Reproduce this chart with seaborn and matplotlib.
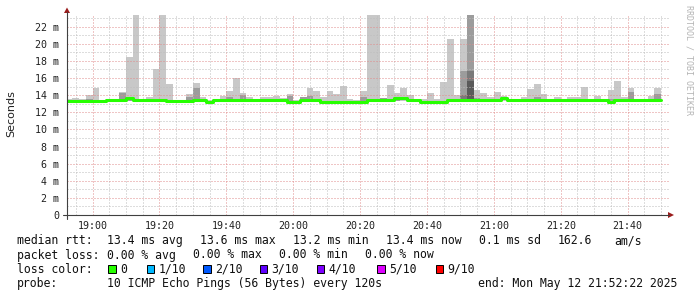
import numpy as np
import matplotlib
matplotlib.use("Agg")
import matplotlib.pyplot as plt
import seaborn as sns
from matplotlib.lines import Line2D
from matplotlib.patches import Polygon, Rectangle
from matplotlib.ticker import FixedLocator, MultipleLocator

nan = np.nan

# ---------------- data ----------------
# time axis in minutes relative to 19:00
view_start = -7.633      # 18:52:22
view_end = 172.367       # 21:52:22
first_step = -8          # first 2-minute step starts 18:52
step_len = 2
x_tick_pos = [0, 20, 40, 60, 80, 100, 120, 140, 160]
x_tick_labels = ["19:00", "19:20", "19:40", "20:00", "20:20",
                 "20:40", "21:00", "21:20", "21:40"]
y_tick_pos = [0, 2, 4, 6, 8, 10, 12, 14, 16, 18, 20, 22]
y_tick_labels = ["0", "2 m", "4 m", "6 m", "8 m", "10 m", "12 m",
                 "14 m", "16 m", "18 m", "20 m", "22 m"]

# slowest ping of each step (ms)
ping_max = [13.55, 13.72, 13.50, 14.00, 14.87, 13.45, 13.50, 13.60, 14.37, 18.45,
            23.50, 13.50, 13.75, 17.05, 23.50, 15.30, 13.45, 13.45, 14.17, 15.45,
            13.75, 13.45, 13.60, 13.87, 14.45, 16.00, 14.20, 13.75, 13.60, 13.75,
            13.80, 13.87, 13.65, 14.17, 13.40, 13.80, 14.83, 14.48, 13.75, 14.48,
            14.17, 15.06, 13.50, 13.45, 14.48, 23.50, 23.50, 13.65, 15.20, 14.20,
            14.83, 14.00, 13.60, 13.60, 14.20, 13.60, 15.57, 20.60, 14.00, 20.60,
            23.50, 14.60, 14.20, 13.75, 14.37, 13.87, 13.45, 13.45, 13.75, 14.75,
            15.30, 14.17, 13.50, 13.75, 13.60, 13.75, 13.75, 14.95, 13.45, 13.87,
            13.45, 14.60, 15.60, 13.75, 14.83, 13.45, 13.50, 13.87, 14.83]

# median rtt of each step (ms)
median_rtt = [13.30, 13.30, 13.30, 13.30, 13.30, 13.30, 13.45, 13.45, 13.45, 13.70,
              13.45, 13.45, 13.45, 13.45, 13.45, 13.30, 13.30, 13.30, 13.30, 13.45,
              13.45, 13.20, 13.45, 13.45, 13.45, 13.45, 13.45, 13.45, 13.45, 13.45,
              13.45, 13.45, 13.45, 13.25, 13.25, 13.45, 13.45, 13.45, 13.25, 13.25,
              13.25, 13.25, 13.25, 13.25, 13.25, 13.45, 13.45, 13.45, 13.45, 13.65,
              13.65, 13.45, 13.45, 13.25, 13.25, 13.25, 13.25, 13.45, 13.45, 13.45,
              13.45, 13.45, 13.45, 13.45, 13.45, 13.65, 13.45, 13.45, 13.45, 13.45,
              13.45, 13.45, 13.45, 13.45, 13.45, 13.45, 13.45, 13.45, 13.45, 13.45,
              13.45, 13.25, 13.45, 13.45, 13.45, 13.45, 13.45, 13.45, 13.45]

# fastest ping of each step (ms)
ping_min = [13.10, 13.10, 13.10, 13.10, 13.10, 13.10, 13.20, 13.20, 13.20, 13.35,
            13.20, 13.20, 13.20, 13.20, 13.20, 13.10, 13.10, 13.10, 13.10, 13.20,
            13.20, 13.00, 13.20, 13.20, 13.20, 13.20, 13.20, 13.20, 13.20, 13.20,
            13.20, 13.20, 13.20, 13.05, 13.05, 13.20, 13.20, 13.20, 13.05, 13.05,
            13.05, 13.05, 13.05, 13.05, 13.05, 13.20, 13.20, 13.20, 13.20, 13.30,
            13.30, 13.20, 13.20, 13.05, 13.05, 13.05, 13.05, 13.20, 13.20, 13.20,
            13.20, 13.20, 13.20, 13.20, 13.20, 13.30, 13.20, 13.20, 13.20, 13.20,
            13.20, 13.20, 13.20, 13.20, 13.20, 13.20, 13.20, 13.20, 13.20, 13.20,
            13.20, 13.05, 13.20, 13.20, 13.20, 13.20, 13.20, 13.20, 13.20]

# denser smoke bands (upper edge, ms)
smoke_mid = [nan, nan, nan, 13.60, nan, nan, nan, nan, 14.30, 13.80,
             nan, nan, nan, nan, nan, nan, nan, nan, 13.75, 14.80,
             nan, nan, nan, nan, 13.80, nan, 14.00, nan, nan, nan,
             nan, nan, nan, 13.90, nan, 13.80, 13.90, nan, nan, nan,
             nan, nan, nan, nan, 13.75, nan, nan, 13.70, nan, 13.80,
             nan, nan, nan, nan, nan, nan, nan, nan, nan, 16.80,
             23.50, 13.70, nan, nan, nan, nan, nan, nan, nan, nan,
             13.80, nan, nan, nan, nan, nan, nan, nan, nan, nan,
             nan, 13.60, nan, nan, 14.37, nan, nan, nan, 14.17]
smoke_dark = [nan] * 59 + [14.00, 16.80] + [nan] * 28
smoke_core = [nan] * 60 + [15.65] + [nan] * 28

# legend texts
stat_row = [(16.7, "median rtt:"), (107.3, "13.4 ms avg"), (200.3, "13.6 ms max"),
            (293.3, "13.2 ms min"), (386.3, "13.4 ms now"), (479.3, "0.1 ms sd"),
            (557.5, "162.6"), (614.0, "am/s")]
loss_row = [(16.7, "packet loss:"), (107.3, "0.00 % avg"), (193.3, "0.00 % max"),
            (279.3, "0.00 % min"), (365.3, "0.00 % now")]
loss_labels = ["0", "1/10", "2/10", "3/10", "4/10", "5/10", "9/10"]
loss_colors = ["#26ff00", "#00b8ff", "#0059ff", "#5e00ff", "#7e00ff", "#dd00ff", "#ff0000"]
loss_box_x = [108.3, 146.7, 203.3, 260.0, 316.7, 377.3, 435.7]
probe_row = [(16.7, "probe:"), (107.3, "10 ICMP Echo Pings (56 Bytes) every 120s"),
             (478.3, "end: Mon May 12 21:52:22 2025")]

# ---------------- drawing ----------------
sns.set_theme(style="white")
plt.rcParams['font.family'] = ['DejaVu Sans Mono', 'DejaVu Sans']

W, H = 697, 297
fig = plt.figure(figsize=(W / 100, H / 100), dpi=100)
fig.patch.set_facecolor("white")
ax = fig.add_axes([67 / W, 1 - 215 / H, (669 - 67) / W, (215 - 15) / H])
ax.set_facecolor("white")

n = len(ping_max)
left_edges = first_step + step_len * np.arange(n)
lo = np.array(ping_min)

def band(top, color, z):
    top = np.array(top, dtype=float)
    ax.bar(left_edges, top - lo, bottom=lo, width=step_len, align="edge",
           color=color, linewidth=0, antialiased=False, zorder=z)

band(ping_max, "#c8c8c8", 1.0)
band(smoke_mid, "#9c9c9c", 1.1)
band(smoke_dark, "#7a7a7a", 1.2)
band(smoke_core, "#5a5a5a", 1.3)

edges = np.append(left_edges, left_edges[-1] + step_len)
med_ext = np.append(median_rtt, median_rtt[-1])
sns.lineplot(x=edges, y=med_ext, drawstyle="steps-post", color="#26ff00",
             linewidth=2.2, ax=ax, zorder=3, sort=False)

ax.set_xlim(view_start, view_end)
ax.set_ylim(0, 23.36)

ax.xaxis.set_major_locator(FixedLocator(x_tick_pos))
ax.set_xticklabels(x_tick_labels)
ax.xaxis.set_minor_locator(MultipleLocator(5))
ax.yaxis.set_major_locator(FixedLocator(y_tick_pos))
ax.set_yticklabels(y_tick_labels)
ax.yaxis.set_minor_locator(MultipleLocator(1))

ax.set_axisbelow(False)
ax.grid(which="minor", color="#bdbdbd", linestyle=(0, (1, 2)), linewidth=0.72)
ax.grid(which="major", color="#e08c8c", linestyle=(0, (1, 2)), linewidth=0.72)

ax.tick_params(axis="both", which="major", length=2.5, width=0.7, color="#505050",
               labelsize=7.2, labelcolor="#202020", direction="out")
ax.tick_params(axis="both", which="minor", length=1.5, width=0.6, color="#808080",
               direction="out")
ax.tick_params(axis="y", which="major", pad=3.2)
ax.tick_params(axis="x", which="major", pad=1.5)
for s in ax.spines.values():
    s.set_visible(False)
ax.set_xlabel("")
ax.set_ylabel("")

def fx(x):
    return x / W

def fy(y):
    return 1 - y / H

# axis lines with arrows
fig.add_artist(Line2D([fx(67), fx(67)], [fy(219), fy(12)], color="#404040", lw=0.8))
fig.add_artist(Line2D([fx(63), fx(669)], [fy(215), fy(215)], color="#404040", lw=0.8))
fig.add_artist(Polygon([[fx(64), fy(13)], [fx(70), fy(13)], [fx(67), fy(7.5)]],
                       closed=True, color="#9a1c1c", lw=0))
fig.add_artist(Polygon([[fx(668), fy(212)], [fx(668), fy(218)], [fx(674), fy(215)]],
                       closed=True, color="#9a1c1c", lw=0))

fig.text(fx(11), fy(113.5), "Seconds", rotation=90, ha="center", va="center",
         fontsize=8.0, family=["DejaVu Sans"], color="#202020")
fig.text(fx(688.5), fy(60), "RRDTOOL / TOBI OETIKER", rotation=270, ha="center",
         va="center", fontsize=6.0, color="#b4b4b4")

lfs = 8.3
base = [244.3, 258.5, 272.7, 286.7]
for x, t in stat_row:
    fig.text(fx(x), fy(base[0]), t, fontsize=lfs, va="baseline", ha="left", color="#101010")
for x, t in loss_row:
    fig.text(fx(x), fy(base[1]), t, fontsize=lfs, va="baseline", ha="left", color="#101010")
fig.text(fx(16.7), fy(base[2]), "loss color:", fontsize=lfs, va="baseline", ha="left",
         color="#101010")
for bx, lab, col in zip(loss_box_x, loss_labels, loss_colors):
    fig.add_artist(Rectangle((fx(bx), fy(base[2])), 7.3 / W, 7.3 / H, facecolor=col,
                             edgecolor="black", linewidth=0.7))
    fig.text(fx(bx + 11.7), fy(base[2]), lab, fontsize=lfs, va="baseline", ha="left",
             color="#101010")
for x, t in probe_row:
    fig.text(fx(x), fy(base[3]), t, fontsize=lfs, va="baseline", ha="left", color="#101010")

fig.savefig("out.png", dpi=100, facecolor="white")
